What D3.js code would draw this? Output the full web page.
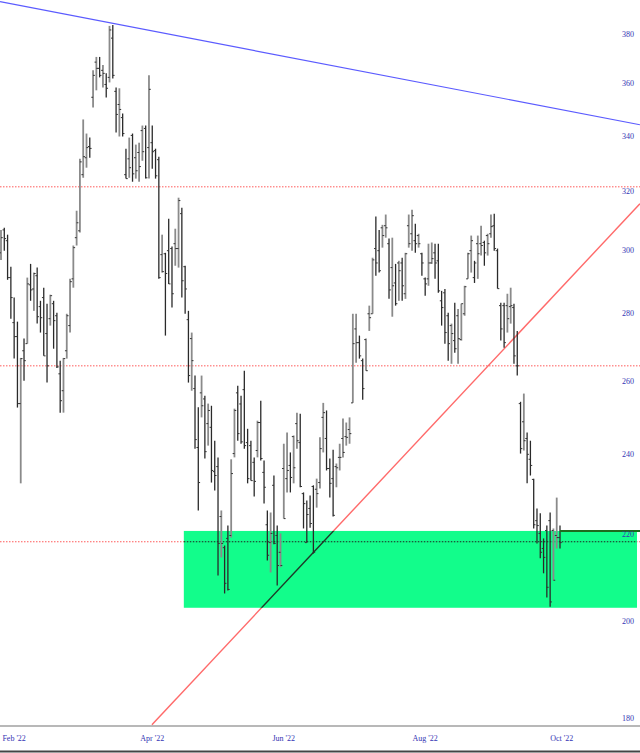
<!DOCTYPE html>
<html>
<head>
<meta charset="utf-8">
<script src="https://cdn.jsdelivr.net/npm/d3@7"></script>
<style>
  body { margin: 0; background: #fff; }
  #chart { width: 640px; height: 753px; }
</style>
</head>
<body>
<div id="chart"></div>
<script>
"use strict";

// daily bars, Jan 26 '22 .. Sep 29 '22 (index = trading day)
const highs = [307.1,307.8,305.5,295.0,285.2,277.8,267.0,272.7,291.5,295.9,293.1,294.7,284.2,288.3,283.3,286.1,284.2,280.5,266.2,267.0,
  280.2,291.1,301.9,313.6,331.9,346.5,341.2,339.7,365.6,371.0,371.0,367.7,364.4,383.8,384.2,358.8,358.5,348.8,335.6,339.7,
  341.2,337.1,337.8,344.2,344.2,363.6,344.2,335.6,332.7,305.5,299.5,310.9,301.6,307.5,318.1,314.6,295.3,281.1,274.5,261.9,
  253.0,261.9,256.2,254.0,253.4,243.9,239.5,226.0,217.5,222.3,239.0,252.6,259.0,256.2,263.3,247.1,243.9,239.5,249.3,254.8,
  238.7,226.0,225.5,234.8,222.3,220.4,243.1,246.1,240.8,245.3,251.5,251.2,230.5,228.5,229.7,232.3,234.0,244.8,254.2,252.1,
  239.2,241.5,237.9,243.1,249.9,248.8,250.2,280.2,280.2,273.6,266.8,272.7,282.7,297.9,311.6,307.1,308.8,312.3,304.2,304.5,
  295.9,296.9,297.9,299.5,312.3,313.9,309.2,305.8,299.5,291.5,302.5,302.9,302.5,302.5,287.3,287.9,280.5,277.2,283.6,281.7,
  283.3,288.9,299.5,305.2,296.9,305.2,308.5,303.5,305.8,312.3,312.6,300.9,283.6,283.6,286.4,288.3,283.3,275.0,254.5,256.8,
  246.1,243.9,234.0,226.5,225.3,219.2,222.3,225.5,221.6,229.2,222.3];
const lows = [297.2,300.2,290.8,278.7,266.8,252.9,232.8,260.4,271.2,284.2,281.1,277.2,274.5,267.6,259.9,276.6,269.7,264.1,251.5,251.5,
  266.8,274.5,288.3,301.9,306.2,325.1,328.7,332.3,351.1,357.7,362.8,358.8,354.9,360.8,362.4,341.6,340.1,340.1,324.8,325.1,
  323.7,324.8,323.7,331.2,324.8,324.8,328.3,324.8,291.1,293.1,273.6,289.5,282.1,295.3,294.7,285.2,280.2,259.9,257.6,241.8,
  226.0,250.2,239.2,242.6,233.0,231.0,210.5,214.7,206.4,207.1,219.4,239.5,243.9,243.1,241.8,232.8,233.5,229.5,239.5,238.7,
  227.7,214.0,211.2,217.8,208.2,212.4,224.0,230.5,230.5,232.8,241.8,231.8,221.6,218.2,221.8,215.6,226.7,231.5,240.8,236.1,
  229.2,224.5,231.8,236.1,239.5,242.6,243.1,254.2,265.6,266.8,255.1,263.3,275.0,280.2,292.1,293.1,301.2,304.5,284.8,279.3,
  282.7,284.2,284.2,284.8,301.2,300.2,299.5,301.2,292.1,285.8,288.9,295.9,291.1,286.7,276.6,271.2,266.2,265.3,268.5,265.3,
  272.1,279.6,291.1,293.1,289.8,291.1,298.6,295.3,298.6,304.5,300.2,288.0,272.1,270.0,274.5,277.2,265.3,261.9,240.5,241.3,
  232.8,234.8,221.6,218.0,214.5,211.0,205.5,203.4,209.4,216.8,216.8];
const opens = [299.5,307.1,303.5,291.5,277.5,273.3,254.0,269.1,271.2,289.2,287.9,292.1,282.4,285.2,274.2,278.7,283.3,279.6,262.4,257.6,
  269.1,276.6,291.1,304.5,306.8,326.2,332.3,336.4,355.0,368.9,366.4,365.6,360.0,362.8,378.7,357.3,352.2,347.2,326.2,331.9,
  340.5,332.3,334.2,342.3,343.1,336.0,337.8,334.9,331.6,298.9,299.2,300.2,300.9,302.5,300.9,312.6,295.0,278.4,272.7,258.2,
  242.1,257.0,255.3,248.5,247.5,235.8,237.1,224.5,217.0,219.2,219.9,240.5,257.0,253.9,257.9,243.4,242.6,238.2,241.3,248.8,
  235.6,222.5,218.2,232.3,219.9,215.9,236.6,234.0,237.4,245.0,248.5,243.4,230.2,218.2,226.5,232.0,231.3,233.0,250.2,244.5,
  236.6,234.0,237.1,239.5,244.5,245.0,246.9,254.2,275.6,271.5,266.2,272.4,280.2,280.2,300.9,300.2,307.8,308.5,302.5,294.7,
  289.8,296.2,296.2,286.4,308.5,305.8,303.5,305.2,299.2,291.1,291.1,296.2,299.5,296.9,284.2,286.7,279.6,276.6,272.1,279.6,
  272.4,280.2,291.1,300.2,291.5,302.5,302.5,302.9,305.2,305.8,308.5,300.2,282.7,282.7,282.7,282.4,282.1,264.7,254.0,249.0,
  244.5,239.0,233.8,223.5,220.4,216.8,221.1,223.5,221.1,219.9,219.4];
const closes = [304.5,304.2,291.5,285.2,273.3,254.0,266.8,266.2,289.5,287.6,292.8,279.3,279.0,267.6,264.7,285.8,278.1,264.4,254.8,266.8,
  279.6,290.2,301.2,309.5,330.8,332.7,336.0,335.7,363.6,366.4,363.6,364.4,358.5,382.1,363.6,348.4,350.3,341.2,324.8,328.7,
  326.5,327.6,329.1,334.5,325.1,358.1,334.5,325.8,291.5,293.4,292.8,289.5,286.4,300.9,317.1,290.5,287.9,261.9,266.2,244.2,
  233.0,253.4,241.0,252.1,236.1,234.8,218.0,218.0,208.7,207.3,235.3,252.1,245.8,243.6,242.6,234.0,233.5,233.3,248.8,239.2,
  231.8,215.2,220.4,218.0,212.8,212.8,224.0,236.1,234.3,236.8,243.9,232.0,227.7,225.0,222.8,215.9,230.2,241.8,251.5,236.6,
  232.8,224.8,236.8,239.5,240.8,244.8,245.8,271.2,271.5,267.6,258.2,263.3,279.0,297.2,296.2,293.7,305.2,307.8,287.6,288.9,
  283.3,293.7,288.9,299.2,302.5,311.9,302.5,302.5,296.2,289.5,296.2,297.6,296.2,287.3,282.1,274.5,271.2,274.2,269.7,272.7,
  283.3,288.6,299.2,303.5,296.2,299.2,301.9,299.5,302.5,308.2,300.9,288.0,275.6,271.5,278.7,282.7,267.6,264.7,241.8,243.9,
  240.3,237.4,222.5,222.3,215.9,214.7,207.8,204.5,209.4,219.4,218.2];

const monthLabels = ["Feb '22", "Apr '22", "Jun '22", "Aug '22", "Oct '22"];
const monthIndex = [4, 46, 86, 129, 170.5];
const yTicks = [180, 200, 220, 240, 260, 280, 300, 320, 340, 360, 380];

// horizontal levels and support zone
const levels = [321.9, 264.7, 218.4];
const zoneTop = 221.0;
const zoneBottom = 203.2;
const zoneStart = 55.6;
// trend lines as [index, price] end points
const resistance = [[-0.3, 394.1], [194.3, 344.5]];
const support = [[45.9, 178.8], [194.3, 316.0]];

const msm = {
    width: 640,
    height: 753,
    plotRight: 640,
    plotBottom: 726,
    labelX: 628
};

let svgContainer = "";

window.onload = function () {
    svgContainer = d3.select("#chart")
        .append("svg")
        .attr("width", msm.width)
        .attr("height", msm.height);
    drawChart();
};

function drawChart() {
    let xScale = d3.scaleLinear()
        .domain([0, 170])
        .range([1, 560]);
    let yScale = d3.scaleLog()
        .domain([180, 380])
        .range([718.7, 35]);
    let xEnd = xScale.invert(msm.plotRight);

    svgContainer.append("clipPath").attr("id", "plotClip")
        .append("rect")
        .attr("x", 0).attr("y", 0)
        .attr("width", msm.plotRight).attr("height", msm.plotBottom);

    let plot = svgContainer.append("g").attr("clip-path", "url(#plotClip)");

    // dotted levels
    plot.selectAll(".level")
        .data(levels)
        .enter()
        .append("line")
        .attr("x1", 0)
        .attr("x2", msm.plotRight)
        .attr("y1", d => yScale(d))
        .attr("y2", d => yScale(d))
        .attr("stroke", "#ff5a5a")
        .attr("stroke-width", 1)
        .attr("stroke-dasharray", "1.5,1.5");

    // trend lines
    let line = d3.line()
        .x(d => xScale(d[0]))
        .y(d => yScale(d[1]));

    plot.append("path")
        .attr("d", line(resistance))
        .attr("fill", "none")
        .attr("stroke", "#5b5bff")
        .attr("stroke-width", 1.2);

    plot.append("path")
        .attr("d", line(support))
        .attr("fill", "none")
        .attr("stroke", "#ff6a6a")
        .attr("stroke-width", 1.4);

    // support zone
    let zx = xScale(zoneStart);
    let zw = xScale(xEnd) - 3 - zx;
    plot.append("rect")
        .attr("x", zx)
        .attr("y", yScale(zoneTop))
        .attr("width", zw)
        .attr("height", yScale(zoneBottom) - yScale(zoneTop))
        .attr("fill", "#12fd8b");

    svgContainer.append("clipPath").attr("id", "zoneClip")
        .append("rect")
        .attr("x", zx)
        .attr("y", yScale(zoneTop))
        .attr("width", zw)
        .attr("height", yScale(zoneBottom) - yScale(zoneTop));

    let zoneG = plot.append("g").attr("clip-path", "url(#zoneClip)");
    zoneG.append("path")
        .attr("d", line(support))
        .attr("fill", "none")
        .attr("stroke", "#1d3a28")
        .attr("stroke-width", 1.4);
    zoneG.append("line")
        .attr("x1", zx)
        .attr("x2", zx + zw)
        .attr("y1", yScale(levels[2]))
        .attr("y2", yScale(levels[2]))
        .attr("stroke", "#222")
        .attr("stroke-width", 1)
        .attr("stroke-dasharray", "1.5,1.5");

    // ohlc bars
    let bars = highs.map((h, i) => ({
        i: i, h: h, l: lows[i], o: opens[i], c: closes[i],
        up: i == 0 ? closes[i] >= opens[i] : closes[i] >= closes[i - 1]
    }));

    let barG = plot.selectAll(".bar")
        .data(bars)
        .enter()
        .append("g")
        .attr("class", "bar");

    barG.append("line")
        .attr("x1", d => xScale(d.i)).attr("x2", d => xScale(d.i))
        .attr("y1", d => yScale(d.h)).attr("y2", d => yScale(d.l))
        .attr("stroke", d => d.up ? "#8a8a8a" : "#2a2a2a")
        .attr("stroke-width", d => d.up ? 1.8 : 1.3);
    barG.append("line")
        .attr("x1", d => xScale(d.i) - 1.8).attr("x2", d => xScale(d.i))
        .attr("y1", d => yScale(d.o)).attr("y2", d => yScale(d.o))
        .attr("stroke", "#333")
        .attr("stroke-width", 1);
    barG.append("line")
        .attr("x1", d => xScale(d.i)).attr("x2", d => xScale(d.i) + 1.8)
        .attr("y1", d => yScale(d.c)).attr("y2", d => yScale(d.c))
        .attr("stroke", "#333")
        .attr("stroke-width", 1);

    // zone top marker after last bar
    plot.append("line")
        .attr("x1", xScale(bars.length - 1))
        .attr("x2", msm.plotRight)
        .attr("y1", yScale(zoneTop))
        .attr("y2", yScale(zoneTop))
        .attr("stroke", "#1e6b1e")
        .attr("stroke-width", 2);

    // price labels
    svgContainer.selectAll(".ytick")
        .data(yTicks)
        .enter()
        .append("text")
        .attr("x", msm.labelX)
        .attr("y", d => yScale(d))
        .attr("text-anchor", "middle")
        .attr("dominant-baseline", "middle")
        .style("font-family", "'Liberation Serif', 'DejaVu Serif', serif")
        .style("font-size", "8px")
        .style("fill", "#3434b4")
        .text(d => d);

    // frame lines
    svgContainer.append("line")
        .attr("x1", 0).attr("x2", msm.width)
        .attr("y1", msm.plotBottom).attr("y2", msm.plotBottom)
        .attr("stroke", "#a0a0a0")
        .attr("stroke-width", 1.5);
    svgContainer.append("line")
        .attr("x1", 0).attr("x2", msm.width)
        .attr("y1", 751.5).attr("y2", 751.5)
        .attr("stroke", "#444")
        .attr("stroke-width", 2);

    // month labels
    svgContainer.selectAll(".xtick")
        .data(monthLabels)
        .enter()
        .append("text")
        .attr("x", (d, i) => xScale(monthIndex[i]))
        .attr("y", 739)
        .attr("text-anchor", "middle")
        .attr("dominant-baseline", "middle")
        .style("font-family", "'Liberation Serif', 'DejaVu Serif', serif")
        .style("font-size", "8px")
        .style("fill", "#3434b4")
        .text(d => d);
}
</script>
</body>
</html>
